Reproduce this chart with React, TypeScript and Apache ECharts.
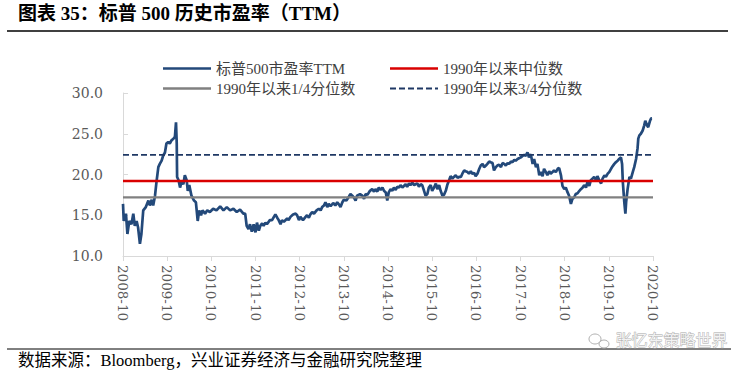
import React, { useEffect, useRef } from "react";
import * as echarts from "echarts";

// months since 2008-10
const months = [
  0.0, 0.2, 0.8, 1.2, 1.7, 2.3, 2.8, 3.2, 3.7, 4.1, 4.6, 5.0, 5.5, 6.2, 6.9, 7.3, 7.8, 8.2, 8.7, 9.1,
  9.6, 10.0, 10.5, 10.9, 11.4, 11.8, 12.3, 12.7, 13.2, 13.7, 14.1, 14.4, 14.6, 14.7, 15.1, 15.5, 15.9, 16.4, 16.8, 17.3,
  17.6, 18.0, 18.6, 19.3, 19.8, 20.3, 20.7, 21.2, 21.6, 22.3, 22.9, 23.6, 24.5, 25.4, 26.4, 27.3, 28.2, 29.1, 30.0, 30.9,
  31.8, 32.7, 33.2, 33.6, 34.1, 34.5, 35.0,
  35.5, 36.0, 36.4, 36.9, 37.3, 37.8, 38.2, 38.7, 39.1, 39.9, 40.5, 41.0, 41.4, 41.9, 42.3, 42.8, 43.2, 43.7, 44.6, 45.0,
  45.5, 46.2, 46.9, 47.3, 47.8, 48.2, 48.9, 49.6, 50.0, 50.5, 50.9, 51.4, 51.9, 52.6, 53.2, 53.7, 54.1, 54.6, 55.0, 55.5,
  55.9, 56.4, 57.1, 57.7, 58.2, 58.7, 59.1, 59.6, 60.0, 60.7, 61.4, 61.8, 62.3, 62.7, 63.2, 63.6, 64.4, 65.0, 65.5, 65.9,
  66.4, 67.1, 67.7, 68.2, 68.6, 69.1, 69.5, 70.0, 70.5, 70.9, 71.4, 71.8,
  72.2, 72.7, 73.2, 73.6, 74.1, 74.5, 75.0, 75.4, 75.9, 76.8, 77.2, 77.7, 78.1, 78.6, 79.1, 79.5, 80.0, 80.4, 80.9, 81.3,
  81.8, 82.2, 82.7, 83.1, 83.6, 84.0, 84.5, 85.0, 85.4, 85.9, 86.3, 86.8, 87.2, 87.7, 88.1, 88.6, 89.0, 89.5, 89.9, 90.4,
  90.9, 91.3, 91.8, 92.2, 92.7, 93.1, 93.6, 94.0, 94.5, 94.9, 95.4, 95.8, 96.3, 96.8, 97.2, 97.7, 98.1, 98.6, 99.0, 99.5,
  99.9, 100.4, 100.8, 101.3, 101.7, 102.2, 102.7, 103.1, 103.6, 104.0, 104.5, 104.9, 105.4, 105.8, 106.3, 106.7, 107.2, 107.6, 108.1, 108.6,
  109.0, 109.4, 109.9, 110.3, 110.8, 111.3, 111.7, 112.2, 112.6, 113.1, 113.5, 114.0, 114.4, 114.9, 115.3, 115.8, 116.2, 116.7, 117.1, 117.6,
  118.1, 118.5, 119.0, 119.4, 119.9, 120.3, 120.8, 121.2, 121.7, 122.1, 122.6, 123.0, 123.5, 124.0, 124.4, 124.9, 125.3, 125.8, 126.2, 126.7,
  127.1, 127.6, 128.0, 128.5, 128.9, 129.4, 129.9, 130.3, 130.8, 131.2, 131.7, 132.1, 132.6, 133.0, 133.5, 133.9, 134.4, 134.8, 135.3, 135.6,
  135.8, 136.2, 136.5, 136.7, 137.1, 137.6, 138.0, 138.5, 138.9, 139.4, 139.8, 140.0, 140.3, 140.7, 141.2, 141.6, 141.9, 142.4, 142.7, 143.2,
  143.5, 143.7,
];

const pe = [
  16.4, 14.3, 15.2, 12.7, 14.3, 13.9, 15.2, 13.7, 14.3, 13.5, 11.5, 12.7, 15.6, 16.0, 16.8, 16.2, 16.9, 16.2, 17.4, 19.1,
  20.9, 21.3, 21.7, 22.3, 22.7, 23.8, 24.0, 23.8, 24.2, 24.4, 24.6, 26.4, 23.8, 19.7, 19.3, 18.4, 19.1, 18.8, 19.9, 19.3,
  18.0, 18.7, 17.4, 16.8, 16.6, 14.3, 15.6, 15.0, 15.6, 15.2, 15.6, 15.4, 15.8, 15.6, 16.1, 15.6, 16.0, 15.6, 15.8, 15.4,
  15.7, 15.2, 15.2, 13.7, 13.3, 13.9, 13.0,
  13.9, 12.9, 14.1, 13.1, 13.7, 14.0, 13.7, 14.1, 13.9, 14.4, 14.4, 14.8, 15.1, 14.7, 14.4, 13.9, 14.4, 14.2, 14.6, 14.4,
  14.8, 15.1, 15.2, 15.0, 14.4, 14.8, 14.4, 14.8, 15.0, 14.7, 15.1, 15.4, 15.2, 15.6, 15.8, 15.6, 16.0, 16.2, 16.6, 16.0,
  16.4, 16.1, 16.5, 16.2, 16.6, 16.3, 16.0, 16.6, 16.9, 16.8, 17.3, 17.6, 17.4, 17.2, 16.8, 17.4, 17.6, 17.4, 17.0, 17.6,
  17.5, 18.0, 18.2, 17.9, 18.2, 17.9, 18.4, 18.1, 18.4, 18.0, 17.8, 16.8,
  17.8, 18.2, 18.0, 18.4, 18.1, 18.5, 18.4, 18.7, 18.4, 18.8, 18.5, 18.9, 18.7, 19.0, 18.7, 18.8, 18.9, 18.5, 18.8, 18.7,
  18.0, 17.4, 17.6, 18.4, 18.7, 18.0, 18.4, 18.9, 18.2, 18.7, 18.0, 17.4, 17.5, 18.0, 18.7, 19.3, 19.8, 19.5, 19.7, 19.9,
  19.6, 19.7, 19.7, 20.1, 20.5, 20.4, 20.3, 20.1, 20.4, 20.1, 20.2, 19.8, 20.1, 20.7, 21.1, 21.3, 20.9, 21.1, 21.3, 21.6,
  21.5, 21.4, 20.5, 20.9, 21.1, 21.2, 20.9, 21.4, 21.3, 21.1, 21.4, 21.3, 21.6, 21.5, 21.8, 21.7, 21.9, 22.0, 22.1, 22.3,
  22.4, 22.3, 22.7, 22.1, 22.5, 21.3, 21.9, 20.9, 21.3, 19.9, 20.3, 19.8, 20.7, 20.3, 19.9, 20.4, 20.1, 20.3, 20.5, 20.3,
  20.7, 20.8, 19.9, 18.6, 18.2, 18.4, 17.8, 17.4, 16.4, 17.0, 17.2, 17.6, 17.7, 18.0, 18.2, 18.4, 18.7, 18.4, 19.1, 18.6,
  19.3, 19.5, 19.7, 19.3, 19.8, 19.3, 18.9, 19.5, 19.9, 19.7, 20.1, 20.3, 20.7, 21.0, 21.3, 21.5, 21.7, 21.9, 22.1, 21.3,
  19.1, 16.6, 15.2, 16.6, 18.2, 19.7, 19.5, 20.3, 20.9, 21.9, 23.2, 24.4, 24.8, 25.0, 25.4, 26.0, 26.6, 26.0, 25.8, 26.6,
  26.9, 26.9,
];

const MEDIAN = 19.2;
const Q1 = 17.2;
const Q3 = 22.4;

const X_MIN = 0;
const X_MAX = 144;
const START_YEAR = 2008;

const seriesNames = ["标普500市盈率TTM", "1990年以来中位数", "1990年以来1/4分位数", "1990年以来3/4分位数"];

const TITLE = "图表 35：标普 500 历史市盈率（TTM）";
const SOURCE = "数据来源：Bloomberg，兴业证券经济与金融研究院整理";
const WATERMARK = "张忆东策略世界";

const FONT = "'Liberation Serif', 'Noto Sans CJK SC', serif";
const AXIS_FONT = "'DejaVu Serif', 'Liberation Serif', serif";

const SOLID_ICON = "path://M0,0H48V2.6H0Z";
const DASH_ICON =
  "path://M0,0H6V1.8H0ZM9,0H15V1.8H9ZM18,0H24V1.8H18ZM27,0H33V1.8H27ZM36,0H42V1.8H36ZM45,0H48V1.8H45Z";

export default function App() {
  const ref = useRef<HTMLDivElement>(null);

  useEffect(() => {
    if (!ref.current) return;
    const chart = echarts.init(ref.current, undefined, { renderer: "svg" });
    const flat = (v: number) => [
      [X_MIN, v],
      [X_MAX, v],
    ];
    const legendBase = {
      padding: 0,
      itemWidth: 48,
      itemGap: 5,
      symbolKeepAspect: false,
      textStyle: { fontFamily: FONT, fontSize: 15, color: "#404040" },
      selectedMode: false,
    };
    chart.setOption({
      animation: false,
      textStyle: { fontFamily: FONT },
      grid: { left: 123, right: 92, top: 93, bottom: 118 },
      legend: [
        { ...legendBase, left: 163, top: 61, itemHeight: 2.6, data: [{ name: seriesNames[0], icon: SOLID_ICON }] },
        { ...legendBase, left: 390, top: 61, itemHeight: 2.6, data: [{ name: seriesNames[1], icon: SOLID_ICON }] },
        { ...legendBase, left: 163, top: 81, itemHeight: 2.6, data: [{ name: seriesNames[2], icon: SOLID_ICON }] },
        { ...legendBase, left: 390, top: 81, itemHeight: 1.8, data: [{ name: seriesNames[3], icon: DASH_ICON }] },
      ],
      xAxis: {
        type: "value",
        min: X_MIN,
        max: X_MAX,
        interval: 12,
        axisLine: { show: true, lineStyle: { color: "#d9d9d9", width: 1 } },
        axisTick: { show: true, length: 5, lineStyle: { color: "#d9d9d9" } },
        axisLabel: {
          rotate: -90,
          margin: 9,
          showMinLabel: true,
          showMaxLabel: true,
          color: "#595959",
          fontFamily: AXIS_FONT,
          fontSize: 13.5,
          formatter: (v: number) => `${START_YEAR + Math.round(v / 12)}-10`,
        },
        splitLine: { show: false },
      },
      yAxis: {
        type: "value",
        min: 10,
        max: 30,
        interval: 5,
        axisLine: { show: true, lineStyle: { color: "#d9d9d9", width: 1 } },
        axisTick: { show: true, inside: true, length: 5, lineStyle: { color: "#d9d9d9" } },
        axisLabel: {
          margin: 20,
          color: "#595959",
          fontFamily: AXIS_FONT,
          fontSize: 14,
          formatter: (v: number) => v.toFixed(1),
        },
        splitLine: { show: false },
      },
      series: [
        {
          name: seriesNames[0],
          type: "line",
          data: months.map((m, i) => [m, pe[i]]),
          symbol: "none",
          lineStyle: { color: "#23497a", width: 2.7 },
          itemStyle: { color: "#23497a" },
          z: 2,
        },
        {
          name: seriesNames[1],
          type: "line",
          data: flat(MEDIAN),
          symbol: "none",
          lineStyle: { color: "#d90000", width: 2.3 },
          itemStyle: { color: "#d90000" },
          z: 3,
        },
        {
          name: seriesNames[2],
          type: "line",
          data: flat(Q1),
          symbol: "none",
          lineStyle: { color: "#808080", width: 2.3 },
          itemStyle: { color: "#808080" },
          z: 3,
        },
        {
          name: seriesNames[3],
          type: "line",
          data: flat(Q3),
          symbol: "none",
          lineStyle: { color: "#1f3864", width: 1.8, type: [6, 3] },
          itemStyle: { color: "#1f3864" },
          z: 3,
        },
      ],
      graphic: [
        {
          type: "text",
          left: 18,
          top: 4,
          style: { text: TITLE, fontFamily: FONT, fontSize: 19, fontWeight: "bold", fill: "#000" },
        },
        { type: "line", shape: { x1: 7, y1: 31, x2: 728, y2: 31 }, style: { stroke: "#000", lineWidth: 1.5 } },
        { type: "line", shape: { x1: 7, y1: 349, x2: 731, y2: 349 }, style: { stroke: "#000", lineWidth: 1 } },
        {
          type: "text",
          left: 18,
          top: 352,
          style: { text: SOURCE, fontFamily: FONT, fontSize: 16.5, fill: "#000" },
        },
        { type: "ellipse", shape: { cx: 595, cy: 339, rx: 6, ry: 5 }, style: { fill: "none", stroke: "#b0b0b0", lineWidth: 1 } },
        { type: "ellipse", shape: { cx: 604, cy: 344, rx: 5, ry: 4 }, style: { fill: "none", stroke: "#b0b0b0", lineWidth: 1 } },
        {
          type: "text",
          left: 615,
          top: 331,
          style: {
            text: WATERMARK,
            fontFamily: "'Noto Sans CJK SC', sans-serif",
            fontSize: 16,
            fill: "#f2f2f2",
            stroke: "#a8a8a8",
            lineWidth: 0.8,
          },
        },
      ],
    });
    return () => chart.dispose();
  }, []);

  return (
    <div
      ref={ref}
      style={{ position: "fixed", left: 0, top: 0, width: 745, height: 374, background: "#fff" }}
    />
  );
}
